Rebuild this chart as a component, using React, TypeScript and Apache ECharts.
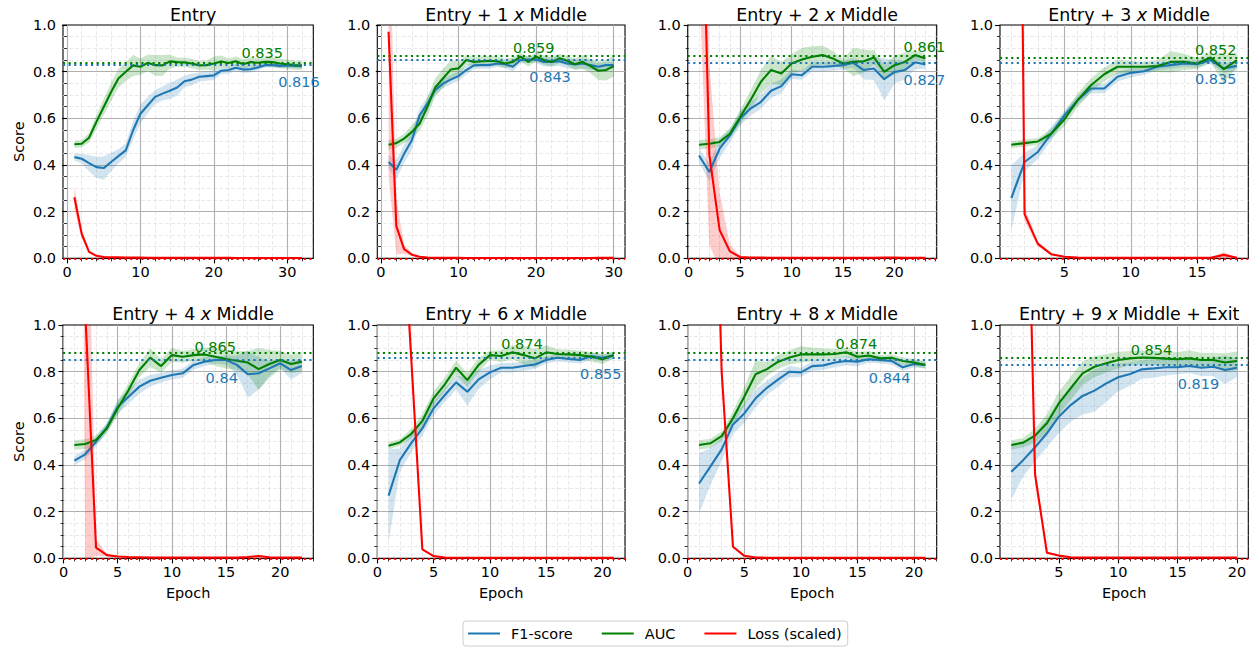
import React, { useEffect, useRef } from "react";
import * as echarts from "echarts";

// ---------------- data ----------------
const titles = [
  "Entry",
  "Entry + 1 {i|x} Middle",
  "Entry + 2 {i|x} Middle",
  "Entry + 3 {i|x} Middle",
  "Entry + 4 {i|x} Middle",
  "Entry + 6 {i|x} Middle",
  "Entry + 8 {i|x} Middle",
  "Entry + 9 {i|x} Middle + Exit",
];

const f1_1 = [0.434,0.427,0.408,0.391,0.387,0.413,0.438,0.463,0.549,0.62,0.656,0.692,0.706,0.718,0.732,0.759,0.766,0.778,0.781,0.784,0.804,0.807,0.817,0.809,0.811,0.818,0.828,0.828,0.825,0.827,0.825,0.824];
const f1Std_1 = [0.015,0.02,0.035,0.045,0.05,0.04,0.03,0.03,0.04,0.04,0.035,0.03,0.03,0.035,0.035,0.025,0.025,0.02,0.02,0.02,0.015,0.015,0.015,0.015,0.015,0.012,0.01,0.01,0.01,0.01,0.01,0.01];
const auc_1 = [0.489,0.491,0.517,0.585,0.649,0.713,0.771,0.8,0.827,0.821,0.838,0.828,0.827,0.844,0.841,0.84,0.835,0.827,0.828,0.835,0.844,0.837,0.845,0.832,0.841,0.838,0.842,0.841,0.835,0.832,0.828,0.827];
const aucStd_1 = [0.015,0.015,0.02,0.03,0.035,0.04,0.04,0.04,0.045,0.035,0.035,0.045,0.045,0.03,0.02,0.02,0.02,0.02,0.02,0.03,0.025,0.02,0.02,0.02,0.02,0.02,0.02,0.02,0.02,0.02,0.02,0.02];
const loss_1 = [0.262,0.105,0.028,0.011,0.006,0.005,0.005,0.004,0.004,0.004,0.003,0.003,0.003,0.003,0.003,0.003,0.003,0.003,0.003,0.003,0.003,0.003,0.002,0.002,0.002,0.002,0.002,0.002,0.002,0.002,0.002,0.002];
const lossStd_1 = [0.05,0.02,0.006,0.003,0.002,0.001,0.001,0,0,0,0,0,0,0,0,0,0,0,0,0,0,0,0,0,0,0,0,0,0,0,0,0];

const f1_2 = [0.413,0.38,0.448,0.506,0.613,0.663,0.721,0.749,0.766,0.781,0.807,0.827,0.828,0.828,0.835,0.832,0.821,0.85,0.852,0.852,0.842,0.842,0.845,0.835,0.831,0.835,0.828,0.821,0.828,0.828];
const f1Std_2 = [0.03,0.04,0.04,0.04,0.03,0.03,0.02,0.02,0.02,0.02,0.02,0.015,0.015,0.015,0.015,0.015,0.02,0.015,0.015,0.015,0.02,0.02,0.02,0.02,0.02,0.02,0.02,0.015,0.015,0.015];
const auc_2 = [0.487,0.494,0.513,0.542,0.577,0.649,0.732,0.771,0.809,0.814,0.85,0.842,0.845,0.847,0.845,0.835,0.842,0.864,0.842,0.864,0.85,0.842,0.857,0.847,0.832,0.842,0.824,0.804,0.807,0.824];
const aucStd_2 = [0.02,0.02,0.02,0.03,0.03,0.04,0.04,0.04,0.04,0.03,0.02,0.02,0.02,0.02,0.02,0.02,0.02,0.02,0.02,0.02,0.02,0.02,0.02,0.02,0.025,0.03,0.03,0.04,0.045,0.045];
const loss_2 = [0.971,0.138,0.04,0.016,0.007,0.004,0.003,0.003,0.003,0.003,0.002,0.002,0.002,0.002,0.002,0.002,0.002,0.002,0.002,0.002,0.002,0.002,0.002,0.002,0.002,0.002,0.002,0.003,0.003,0.003];
const lossStd_2 = [0.62,0.12,0.02,0.006,0.002,0.001,0,0,0,0,0,0,0,0,0,0,0,0,0,0,0,0,0,0,0,0,0,0,0,0];

const f1_3 = [0.441,0.37,0.47,0.527,0.599,0.642,0.67,0.718,0.738,0.789,0.785,0.821,0.821,0.824,0.828,0.838,0.807,0.814,0.768,0.799,0.807,0.84,0.831];
const f1Std_3 = [0.03,0.04,0.04,0.03,0.03,0.03,0.03,0.03,0.03,0.02,0.02,0.02,0.02,0.02,0.02,0.02,0.04,0.05,0.09,0.05,0.04,0.03,0.02];
const auc_3 = [0.487,0.491,0.499,0.534,0.606,0.678,0.756,0.807,0.792,0.835,0.852,0.864,0.871,0.857,0.835,0.842,0.845,0.861,0.799,0.828,0.842,0.871,0.857];
const aucStd_3 = [0.02,0.02,0.02,0.02,0.03,0.04,0.05,0.06,0.05,0.04,0.05,0.045,0.04,0.03,0.02,0.06,0.05,0.03,0.03,0.04,0.04,0.02,0.02];
const loss_3 = [2.2,0.446,0.122,0.03,0.006,0.004,0.004,0.003,0.003,0.003,0.003,0.003,0.003,0.003,0.003,0.003,0.003,0.003,0.004,0.004,0.003,0.003,0.003];
const lossStd_3 = [1.0,0.39,0.16,0.03,0.003,0.001,0,0,0,0,0,0,0,0,0,0,0,0,0.001,0.001,0,0,0];

const f1_4 = [0.258,0.413,0.456,0.534,0.613,0.678,0.728,0.728,0.778,0.795,0.802,0.821,0.828,0.835,0.832,0.85,0.814,0.825];
const f1Std_4 = [0.14,0.04,0.03,0.03,0.02,0.02,0.02,0.02,0.02,0.02,0.015,0.015,0.015,0.015,0.015,0.015,0.02,0.02];
const auc_4 = [0.487,0.494,0.501,0.534,0.595,0.678,0.742,0.789,0.821,0.821,0.821,0.824,0.842,0.842,0.835,0.861,0.811,0.85];
const aucStd_4 = [0.015,0.015,0.015,0.02,0.03,0.03,0.03,0.03,0.03,0.025,0.02,0.025,0.045,0.035,0.025,0.02,0.06,0.03];
const loss_4 = [6.0,0.19,0.062,0.018,0.007,0.004,0.003,0.003,0.003,0.003,0.003,0.003,0.003,0.003,0.003,0.003,0.015,0.003];
const lossStd_4 = [1.0,0.03,0.01,0.005,0.002,0.001,0,0,0,0,0,0,0,0,0,0,0.012,0.001];

const f1_5 = [0.419,0.446,0.5,0.561,0.65,0.693,0.736,0.761,0.774,0.786,0.793,0.829,0.843,0.85,0.85,0.829,0.789,0.793,0.814,0.836,0.807,0.824];
const f1Std_5 = [0.02,0.02,0.02,0.02,0.03,0.03,0.03,0.025,0.02,0.02,0.02,0.02,0.02,0.015,0.02,0.04,0.1,0.07,0.03,0.02,0.04,0.03];
const auc_5 = [0.486,0.49,0.507,0.557,0.643,0.721,0.807,0.86,0.824,0.871,0.864,0.871,0.874,0.864,0.854,0.847,0.839,0.811,0.833,0.85,0.833,0.843];
const aucStd_5 = [0.02,0.02,0.02,0.02,0.03,0.03,0.03,0.04,0.03,0.03,0.025,0.025,0.03,0.04,0.04,0.04,0.05,0.09,0.06,0.04,0.04,0.04];
const loss_5 = [8,1.06,0.046,0.014,0.008,0.006,0.005,0.004,0.004,0.004,0.004,0.004,0.004,0.004,0.004,0.004,0.006,0.01,0.005,0.004,0.004,0.004];
const lossStd_5 = [1,1.07,0.035,0.005,0.002,0.001,0,0,0,0,0,0,0,0,0,0,0.002,0.005,0.001,0,0,0];

const f1_6 = [0.269,0.421,0.493,0.557,0.643,0.7,0.754,0.714,0.767,0.797,0.817,0.817,0.824,0.831,0.85,0.86,0.854,0.85,0.867,0.86,0.869];
const f1Std_6 = [0.2,0.05,0.04,0.03,0.03,0.03,0.03,0.06,0.04,0.03,0.02,0.02,0.02,0.02,0.015,0.015,0.015,0.015,0.015,0.015,0.015];
const auc_6 = [0.483,0.497,0.533,0.589,0.686,0.746,0.817,0.764,0.829,0.871,0.867,0.883,0.871,0.857,0.883,0.876,0.874,0.871,0.864,0.853,0.871];
const aucStd_6 = [0.015,0.015,0.02,0.03,0.03,0.03,0.03,0.03,0.03,0.02,0.025,0.03,0.04,0.04,0.03,0.02,0.02,0.02,0.02,0.02,0.015];
const loss_6 = [4,1.7,0.87,0.039,0.01,0.004,0.003,0.003,0.003,0.003,0.003,0.003,0.003,0.003,0.003,0.003,0.003,0.003,0.003,0.003,0.003];
const lossStd_6 = [0.5,0.2,0.05,0.003,0.001,0,0,0,0,0,0,0,0,0,0,0,0,0,0,0,0];

const f1_7 = [0.321,0.393,0.467,0.574,0.621,0.686,0.731,0.767,0.8,0.797,0.824,0.827,0.839,0.846,0.843,0.853,0.85,0.846,0.819,0.833,0.829];
const f1Std_7 = [0.13,0.08,0.05,0.04,0.04,0.04,0.03,0.03,0.025,0.02,0.02,0.02,0.02,0.02,0.02,0.015,0.015,0.015,0.015,0.015,0.015];
const auc_7 = [0.486,0.493,0.524,0.6,0.693,0.789,0.811,0.843,0.861,0.874,0.874,0.874,0.876,0.883,0.864,0.869,0.857,0.86,0.846,0.839,0.829];
const aucStd_7 = [0.02,0.02,0.02,0.03,0.04,0.06,0.03,0.03,0.03,0.035,0.03,0.025,0.02,0.02,0.02,0.02,0.015,0.015,0.015,0.015,0.015];
const loss_7 = [6,2.5,0.8,0.05,0.011,0.004,0.003,0.003,0.003,0.003,0.003,0.003,0.003,0.003,0.003,0.003,0.003,0.003,0.003,0.003,0.003];
const lossStd_7 = [0.5,0.2,0.05,0.004,0.001,0,0,0,0,0,0,0,0,0,0,0,0,0,0,0,0];

const f1_8 = [0.371,0.421,0.476,0.536,0.607,0.657,0.696,0.719,0.75,0.776,0.79,0.81,0.814,0.819,0.819,0.824,0.817,0.821,0.807,0.817];
const f1Std_8 = [0.12,0.07,0.06,0.06,0.07,0.07,0.08,0.09,0.08,0.06,0.05,0.04,0.04,0.035,0.03,0.03,0.035,0.04,0.06,0.04];
const auc_8 = [0.486,0.496,0.526,0.579,0.664,0.729,0.793,0.821,0.836,0.85,0.857,0.861,0.859,0.856,0.853,0.857,0.85,0.85,0.839,0.846];
const aucStd_8 = [0.02,0.02,0.03,0.04,0.05,0.05,0.05,0.045,0.04,0.035,0.03,0.03,0.03,0.03,0.03,0.035,0.03,0.03,0.04,0.04];
const loss_8 = [5,2.54,0.36,0.024,0.012,0.005,0.004,0.004,0.004,0.004,0.004,0.004,0.004,0.004,0.004,0.004,0.004,0.004,0.004,0.004];
const lossStd_8 = [0.5,0.2,0.04,0.003,0.002,0,0,0,0,0,0,0,0,0,0,0,0,0,0,0];

const xMajorTicks = [
  [0, 10, 20, 30],
  [0, 10, 20, 30],
  [0, 5, 10, 15, 20],
  [5, 10, 15],
  [0, 5, 10, 15, 20],
  [0, 5, 10, 15, 20],
  [0, 5, 10, 15, 20],
  [5, 10, 15, 20],
];
const xMinorStep = [2, 2, 1, 1, 1, 1, 1, 1];
const yTicks = [0, 0.2, 0.4, 0.6, 0.8, 1.0];

const aucRef = [0.845, 0.87, 0.871, 0.862, 0.876, 0.883, 0.883, 0.861];
const f1Ref = [0.827, 0.854, 0.838, 0.845, 0.849, 0.864, 0.851, 0.827];
const lossRef = [0.004, 0.004, 0.004, 0.004, 0.004, 0.004, 0.004, 0.004];

const aucLabel = ["0.835", "0.859", "0.861", "0.852", "0.865", "0.874", "0.874", "0.854"];
const f1Label = ["0.816", "0.843", "0.827", "0.835", "0.84", "0.855", "0.844", "0.819"];
const aucLabelX = [26.6, 19.7, 22.9, 16.4, 14.0, 12.85, 14.9, 12.8];
const aucLabelY = [0.882, 0.901, 0.905, 0.895, 0.906, 0.917, 0.917, 0.894];
const f1LabelX = [31.6, 21.8, 22.9, 16.4, 14.6, 19.85, 17.84, 16.75];
const f1LabelY = [0.754, 0.778, 0.764, 0.769, 0.771, 0.789, 0.774, 0.749];

const legendNames = ["F1-score", "AUC", "Loss (scaled)"];

// ---------------- styling / layout ----------------
const FONT = "'DejaVu Sans', 'Noto Sans', sans-serif";
const C_F1 = "#1f77b4";
const C_AUC = "#008000";
const C_LOSS = "#ff0000";
const BAND_F1 = "rgba(31,119,180,0.2)";
const BAND_AUC = "rgba(0,128,0,0.2)";
const BAND_LOSS = "rgba(255,0,0,0.2)";
const FS = 14.5;

const colLefts = [63, 377.3, 687.7, 1000];
const colWidths = [250.3, 247.7, 249, 248.3];
const rowTops = [25, 325];
const plotH = 233.4;

const panelF1 = [f1_1, f1_2, f1_3, f1_4, f1_5, f1_6, f1_7, f1_8];
const panelF1Std = [f1Std_1, f1Std_2, f1Std_3, f1Std_4, f1Std_5, f1Std_6, f1Std_7, f1Std_8];
const panelAuc = [auc_1, auc_2, auc_3, auc_4, auc_5, auc_6, auc_7, auc_8];
const panelAucStd = [aucStd_1, aucStd_2, aucStd_3, aucStd_4, aucStd_5, aucStd_6, aucStd_7, aucStd_8];
const panelLoss = [loss_1, loss_2, loss_3, loss_4, loss_5, loss_6, loss_7, loss_8];
const panelLossStd = [lossStd_1, lossStd_2, lossStd_3, lossStd_4, lossStd_5, lossStd_6, lossStd_7, lossStd_8];

const r3 = (v: number) => Math.round(v * 1000) / 1000;

function minorTicks(min: number, max: number, step: number, majors: number[]) {
  const out: number[] = [];
  for (let v = Math.ceil(min / step) * step; v <= max + 1e-9; v += step) {
    const r = r3(v);
    if (r >= min && !majors.includes(r)) out.push(r);
  }
  return out;
}

function bandSeries(k: number, mean: number[], std: number[], fill: string) {
  const pts = mean.map((m, i) => [i + 1, m - std[i], m + std[i]]);
  return {
    type: "custom",
    xAxisIndex: 2 * k,
    yAxisIndex: k,
    clip: true,
    silent: true,
    z: 1,
    data: pts,
    encode: { x: 0, y: [1, 2] },
    renderItem: (params: any, api: any) => {
      if (params.dataIndex !== 0) return null;
      const upper = pts.map((p) => api.coord([p[0], p[2]]));
      const lower = pts.map((p) => api.coord([p[0], p[1]])).reverse();
      return {
        type: "polygon",
        shape: { points: upper.concat(lower) },
        style: { fill, stroke: "none" },
      };
    },
  };
}

function lineSeries(k: number, name: string, vals: number[], color: string, ref: number, z: number) {
  return {
    type: "line",
    name,
    xAxisIndex: 2 * k,
    yAxisIndex: k,
    data: vals.map((v, i) => [i + 1, v]),
    symbol: "none",
    showSymbol: false,
    clip: true,
    z,
    lineStyle: { color, width: 2.1 },
    itemStyle: { color },
    markLine: {
      silent: true,
      symbol: "none",
      label: { show: false },
      lineStyle: { color, width: 2.1, type: [2.1, 3.5] },
      data: [{ yAxis: ref }],
    },
  };
}

function textSeries(k: number, x: number, y: number, text: string, color: string) {
  return {
    type: "custom",
    xAxisIndex: 2 * k,
    yAxisIndex: k,
    silent: true,
    z: 6,
    data: [[x, y]],
    renderItem: (_params: any, api: any) => {
      const p = api.coord([api.value(0), api.value(1)]);
      return {
        type: "text",
        x: p[0],
        y: p[1],
        style: {
          text,
          fill: color,
          fontSize: FS,
          fontFamily: FONT,
          align: "center",
          verticalAlign: "middle",
        },
      };
    },
  };
}

export default function App() {
  const ref = useRef<HTMLDivElement>(null);

  useEffect(() => {
    if (!ref.current) return;
    const chart = echarts.init(ref.current, undefined, { renderer: "svg" });

    const grids: any[] = [];
    const xAxes: any[] = [];
    const yAxes: any[] = [];
    const series: any[] = [];
    const titleOpts: any[] = [];

    for (let k = 0; k < 8; k++) {
      const row = Math.floor(k / 4);
      const col = k % 4;
      const n = panelF1[k].length;
      const xmin = r3(1 - 0.05 * (n - 1));
      const xmax = r3(n + 0.05 * (n - 1));
      const majors = xMajorTicks[k];
      const minors = minorTicks(xmin, xmax, xMinorStep[k], majors);

      grids.push({
        left: colLefts[col],
        top: rowTops[row],
        width: colWidths[col],
        height: plotH,
        show: true,
        borderColor: "#000",
        borderWidth: 1.1,
        backgroundColor: "transparent",
        containLabel: false,
      });

      titleOpts.push({
        text: titles[k],
        left: colLefts[col] + colWidths[col] / 2,
        top: row === 0 ? 1 : 300,
        textAlign: "center",
        textStyle: {
          fontSize: 17.4,
          fontWeight: "normal",
          color: "#000",
          fontFamily: FONT,
          rich: { i: { fontStyle: "italic", fontSize: 17.4, fontFamily: FONT, color: "#000" } },
        },
      });

      // major x axis
      xAxes.push({
        type: "value",
        gridIndex: k,
        min: xmin,
        max: xmax,
        position: "bottom",
        axisLine: { show: false },
        axisTick: { show: true, length: 5, customValues: majors, lineStyle: { color: "#000", width: 1.1 } },
        axisLabel: { show: true, customValues: majors, margin: 6, fontSize: FS, color: "#000", fontFamily: FONT },
        splitLine: { show: true, lineStyle: { color: "#b0b0b0", width: 1.1 } },
        name: row === 1 ? "Epoch" : "",
        nameLocation: "middle",
        nameGap: 27,
        nameTextStyle: { fontSize: FS, color: "#000", fontFamily: FONT, verticalAlign: "top" },
      });
      // minor x axis (grid + minor ticks)
      xAxes.push({
        type: "value",
        gridIndex: k,
        min: xmin,
        max: xmax,
        position: "bottom",
        axisLine: { show: false },
        axisLabel: { show: false, customValues: minors },
        axisTick: { show: true, length: 3, customValues: minors, lineStyle: { color: "#000", width: 0.8 } },
        splitLine: { show: true, lineStyle: { color: "#e3e3e3", width: 0.8, type: [4, 2] } },
        z: -1,
      });

      yAxes.push({
        type: "value",
        gridIndex: k,
        min: 0,
        max: 1,
        interval: 0.2,
        axisLine: { show: false },
        axisTick: { show: true, length: 5, lineStyle: { color: "#000", width: 1.1 } },
        minorTick: { show: true, splitNumber: 4, length: 3, lineStyle: { color: "#000", width: 0.8 } },
        axisLabel: {
          margin: 7,
          fontSize: FS,
          color: "#000",
          fontFamily: FONT,
          formatter: (v: number) => v.toFixed(1),
        },
        splitLine: { show: true, showMinLine: false, showMaxLine: false, lineStyle: { color: "#b0b0b0", width: 1.1 } },
        minorSplitLine: { show: true, lineStyle: { color: "#e3e3e3", width: 0.8, type: [4, 2] } },
        name: col === 0 ? "Score" : "",
        nameLocation: "middle",
        nameGap: 37,
        nameRotate: 90,
        nameTextStyle: { fontSize: FS, color: "#000", fontFamily: FONT },
      });

      series.push(bandSeries(k, panelF1[k], panelF1Std[k], BAND_F1));
      series.push(bandSeries(k, panelAuc[k], panelAucStd[k], BAND_AUC));
      series.push(bandSeries(k, panelLoss[k], panelLossStd[k], BAND_LOSS));
      series.push(lineSeries(k, legendNames[0], panelF1[k], C_F1, f1Ref[k], 3));
      series.push(lineSeries(k, legendNames[1], panelAuc[k], C_AUC, aucRef[k], 4));
      series.push(lineSeries(k, legendNames[2], panelLoss[k], C_LOSS, lossRef[k], 5));
      series.push(textSeries(k, aucLabelX[k], aucLabelY[k], aucLabel[k], C_AUC));
      series.push(textSeries(k, f1LabelX[k], f1LabelY[k], f1Label[k], C_F1));
    }

    const option: any = {
      animation: false,
      backgroundColor: "#ffffff",
      title: titleOpts,
      legend: {
        data: legendNames.map((name) => ({ name })),
        selectedMode: false,
        left: 463,
        top: 621,
        orient: "horizontal",
        icon: "path://M0,0H32V2H0Z M37.9,0H38V2H37.9Z",
        itemWidth: 38,
        itemHeight: 2,
        itemGap: 29,
        itemStyle: { borderWidth: 0 },
        textStyle: { fontSize: FS, color: "#000", fontFamily: FONT },
        borderColor: "#cccccc",
        borderWidth: 1,
        borderRadius: 3,
        padding: [5, 6, 5, 5],
        backgroundColor: "#ffffff",
      },
      grid: grids,
      xAxis: xAxes,
      yAxis: yAxes,
      series,
    };

    chart.setOption(option);
    return () => chart.dispose();
  }, []);

  return (
    <div
      ref={ref}
      style={{ position: "fixed", left: 0, top: 0, width: 1255, height: 651, background: "#fff" }}
    />
  );
}
